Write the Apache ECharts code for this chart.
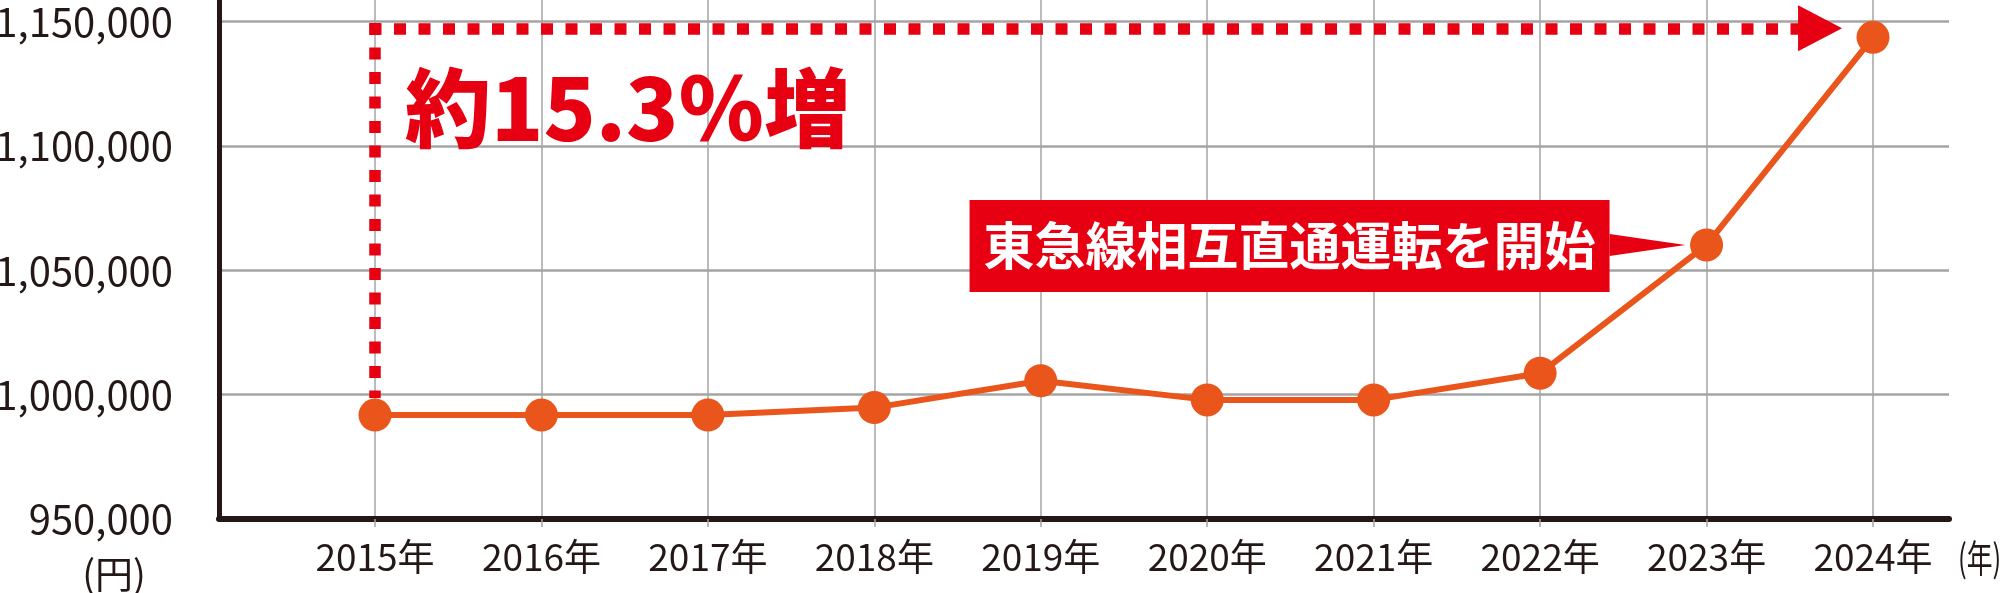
<!DOCTYPE html>
<html><head><meta charset="utf-8">
<script src="https://cdn.jsdelivr.net/npm/echarts@6/dist/echarts.min.js"></script>
<style>html,body{margin:0;padding:0;background:#fff;overflow:hidden}#c{width:2000px;height:593px}</style>
</head><body><div id="c"></div>
<script>
// ---- data ----
const years = [2015, 2016, 2017, 2018, 2019, 2020, 2021, 2022, 2023, 2024];
const values = [991800, 991800, 991800, 994800, 1005600, 997900, 997900, 1008600, 1060200, 1143700];
const yTickValues = [950000, 1000000, 1050000, 1100000, 1150000];
const yUnit = '(円)';
const xUnit = '(年)';
const yearSuffix = '年';
const growthText = '約15.3％増';
const eventText = '東急線相互直通運転を開始';
const eventYear = 2023;
const arrowLevel = 1147300;   // level of the horizontal dotted arrow
const arrowTop = 1149500;     // top of vertical dotted line
const arrowBottom = 998700;   // bottom of vertical dotted line
const arrowStartYear = 2014.967;
const arrowEndYear = 2023.682;

const RED = '#E60012';
const ORANGE = '#E9551A';
const INK = '#231815';
const GRID = '#a4a4a4';
const FONT = '"Noto Sans CJK JP", "Noto Sans", sans-serif';

const chart = echarts.init(document.getElementById('c'), null, {renderer: 'canvas'});
const eventValue = values[years.indexOf(eventYear)];

chart.setOption({
  animation: false,
  backgroundColor: '#fff',
  grid: {left: 219, right: 51, top: 0, bottom: 74, containLabel: false, outerBoundsMode: 'none'},
  graphic: [{
    type: 'text', x: 1958, y: 558, scaleX: 0.68,
    style: {text: xUnit, fill: INK, font: '38px ' + FONT, textVerticalAlign: 'middle', verticalAlign: 'middle'}
  }],
  xAxis: {
    type: 'value',
    min: 2014.0627,
    max: 2024.4566,
    axisLine: {show: true, lineStyle: {color: INK, width: 6}},
    axisTick: {show: true, customValues: years, length: 8, lineStyle: {color: GRID, width: 1.5}},
    axisLabel: {customValues: years, formatter: v => v + yearSuffix, color: INK, fontSize: 37, fontFamily: FONT, margin: 19},
    splitLine: {show: true, lineStyle: {color: GRID, width: 1.5}}
  },
  yAxis: {
    type: 'value',
    min: yTickValues[0],
    max: 1158700,
    interval: 50000,
    name: yUnit,
    nameLocation: 'start',
    nameGap: 36,
    nameTextStyle: {color: INK, fontSize: 38, fontFamily: FONT, padding: [0, 210, 0, 0]},
    axisLine: {show: true, lineStyle: {color: INK, width: 5}},
    axisTick: {show: false},
    axisLabel: {
      showMaxLabel: false,
      formatter: v => yTickValues.indexOf(v) >= 0 ? v.toLocaleString('en-US') : '',
      color: INK, fontSize: 40, fontFamily: FONT, margin: 46
    },
    splitLine: {show: true, showMinLine: false, showMaxLine: false, lineStyle: {color: GRID, width: 2.5}}
  },
  series: [{
    type: 'line',
    data: years.map((y, i) => [y, values[i]]),
    symbol: 'circle',
    symbolSize: 33,
    itemStyle: {color: ORANGE},
    lineStyle: {color: ORANGE, width: 6},
    z: 3,
    markLine: {
      silent: true,
      animation: false,
      label: {show: false},
      lineStyle: {color: RED, width: 11.5, type: [12, 12.5], cap: 'butt'},
      data: [
        [{coord: [years[0], arrowTop], symbol: 'none'}, {coord: [years[0], arrowBottom], symbol: 'none'}],
        [{coord: [arrowStartYear, arrowLevel], symbol: 'none'}, {coord: [arrowEndYear, arrowLevel], symbol: 'triangle', symbolSize: [46, 44]}]
      ]
    },
    markPoint: {
      silent: true,
      animation: false,
      data: [
        {
          coord: [years[0], arrowLevel],
          symbol: 'rect', symbolSize: 0,
          label: {show: true, formatter: growthText, position: [30, 80], align: 'left', verticalAlign: 'middle',
                  color: RED, fontSize: 86, fontWeight: 900, fontFamily: FONT}
        },
        {
          coord: [eventYear, eventValue],
          symbol: 'triangle', symbolSize: [22, 76], symbolRotate: -90, symbolOffset: [-59, 0],
          itemStyle: {color: RED},
          label: {show: false}
        },
        {
          coord: [eventYear, eventValue],
          symbol: 'rect', symbolSize: [640, 92], symbolOffset: [-417, 1],
          itemStyle: {color: RED},
          label: {show: true, formatter: eventText, position: 'inside', color: '#fff',
                  fontSize: 51, fontWeight: 'bold', fontFamily: FONT}
        }
      ]
    }
  }]
});
</script></body></html>
